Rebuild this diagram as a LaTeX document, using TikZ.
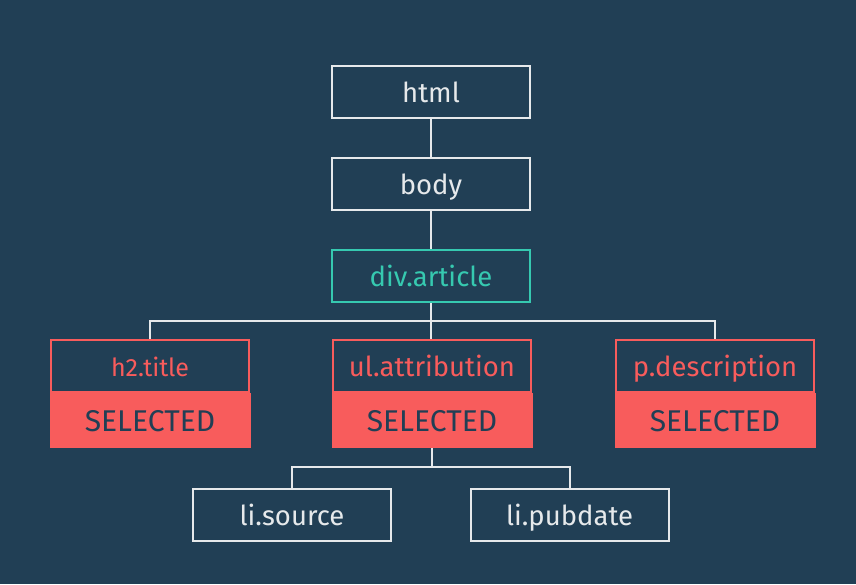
\documentclass[tikz,border=0pt]{standalone}
\usepackage{fontspec}
\setmainfont{Fira Sans}
\usetikzlibrary{positioning}
\definecolor{navy}{HTML}{213F55}
\definecolor{coral}{HTML}{F85C5C}
\definecolor{teal}{HTML}{36C9B0}
\definecolor{pale}{HTML}{E6E9EB}

\begin{document}
\begin{tikzpicture}
    [
        x=1pt, y=1pt,
        font=\fontsize{27.5}{30}\selectfont,
        node distance=38pt,
        elem/.style   ={rectangle, draw=pale, line width=2pt, text=pale,
                        minimum width=198pt, minimum height=52pt, inner sep=0pt,
                        text height=20pt, text depth=0pt},
        artel/.style  ={elem, draw=teal, text=teal},
        tag/.style    ={elem, draw=coral, text=coral},
        sel/.style    ={rectangle, fill=coral, text=navy, inner sep=0pt,
                        minimum width=201pt, minimum height=55pt,
                        text height=21pt, text depth=0pt,
                        font=\fontsize{30}{32}\selectfont},
        link/.style   ={draw=pale, line width=2pt}
    ]

    \fill[navy] (0,0) rectangle (856,-584);

    \node[elem]     (html)                          at (431,-92) {html};
    \node[elem]     (body)  [below=of html]         {body};
    \node[artel]    (art)   [below=of body]         {div.article};

    \node[tag]      (ul)    [below=36pt of art, xshift=1pt] {ul.attribution};
    \node[tag, font=\fontsize{25}{28}\selectfont]
                    (h2)    [left=82pt of ul]       {h2.title};
    \node[tag]      (pd)    [right=83pt of ul]      {p.description};

    \node[sel]      (h2s)   [below=0pt of h2]       {SELECTED};
    \node[sel]      (uls)   [below=0pt of ul]       {SELECTED};
    \node[sel]      (pds)   [below=0pt of pd]       {SELECTED};

    \node[elem]     (src)   [below=40pt of uls, xshift=-140pt]  {li.source};
    \node[elem]     (pub)   [below=40pt of uls, xshift=137.5pt] {li.pubdate};

    \draw[link]     (html) to (body);
    \draw[link]     (body) to (art);

    \draw[link]     (art.south) -- ++(0,-18) -| (h2.north);
    \draw[link]     (art.south) -- ++(0,-18) -| (pd.north);
    \draw[link]     (art.south) -- (art.south |- ul.north);

    \draw[link]     (uls.south) -- ++(0,-19) -| (src.north);
    \draw[link]     (uls.south) -- ++(0,-19) -| (pub.north);

\end{tikzpicture}
\end{document}
